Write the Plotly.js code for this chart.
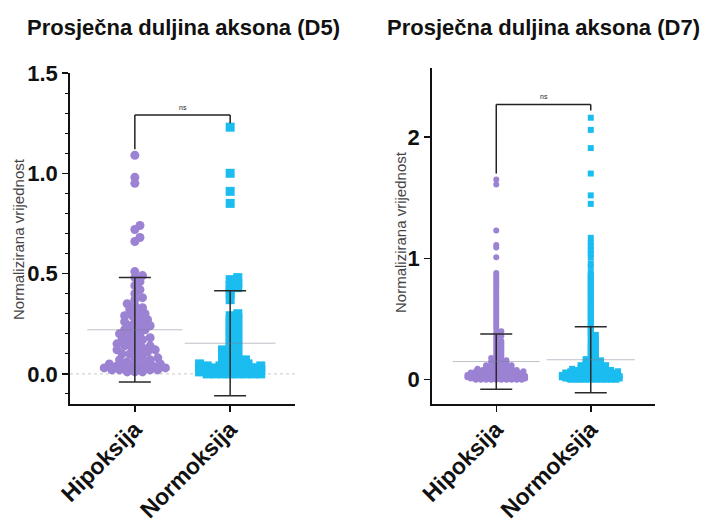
<!DOCTYPE html>
<html>
<head>
<meta charset="utf-8">
<script src="https://cdn.plot.ly/plotly-3.0.1.min.js"></script>
<style>html,body{margin:0;padding:0;background:#fff;}#chart{width:706px;height:524px;}</style>
</head>
<body>
<div id="chart"></div>
<script>
// ---- data ----
const groups = ['Hipoksija', 'Normoksija'];
const titles = ['Prosječna duljina aksona (D5)', 'Prosječna duljina aksona (D7)'];
const yTitle = 'Normalizirana vrijednost';
const sigLabel = 'ns';

const hipoD5 = [1.09, 0.98, 0.95, 0.74, 0.72, 0.68, 0.66, 0.51, 0.49, 0.48, 0.46, 0.44, 0.42, 0.40, 0.38, 0.37, 0.35, 0.34, 0.33, 0.32, 0.31, 0.30, 0.29, 0.29, 0.28, 0.27, 0.26, 0.26, 0.25, 0.24, 0.24, 0.23, 0.22, 0.22, 0.21, 0.20, 0.20, 0.19, 0.18, 0.18, 0.17, 0.17, 0.16, 0.15, 0.15, 0.14, 0.14, 0.13, 0.13, 0.12, 0.12, 0.11, 0.11, 0.10, 0.10, 0.09, 0.08, 0.08, 0.07, 0.07, 0.06, 0.06, 0.05, 0.05, 0.05, 0.04, 0.04, 0.04, 0.04, 0.03, 0.03, 0.03, 0.03, 0.02, 0.02, 0.02, 0.02, 0.01, 0.01, 0.01];
const normoD5 = [1.23, 1.00, 0.91, 0.85, 0.48, 0.47, 0.45, 0.44, 0.43, 0.42, 0.40, 0.37, 0.30, 0.29, 0.28, 0.27, 0.26, 0.25, 0.24, 0.23, 0.22, 0.21, 0.20, 0.19, 0.18, 0.17, 0.16, 0.15, 0.14, 0.13, 0.12, 0.12, 0.11, 0.10, 0.10, 0.09, 0.08, 0.08, 0.07, 0.07, 0.06, 0.06, 0.05, 0.05, 0.05, 0.04, 0.04, 0.04, 0.04, 0.03, 0.03, 0.03, 0.03, 0.03, 0.03, 0.02, 0.02, 0.02, 0.02, 0.02, 0.02, 0.02, 0.01, 0.01, 0.01, 0.01, 0.01, 0.01, 0.01, 0.01, 0.00, 0.00, 0.00, 0.00, 0.00, 0.00, 0.00, 0.00];
const hipoD7 = [1.65, 1.61, 1.23, 1.11, 1.09, 1.01, 0.88, 0.86, 0.84, 0.82, 0.80, 0.78, 0.76, 0.74, 0.72, 0.70, 0.68, 0.66, 0.64, 0.62, 0.60, 0.58, 0.56, 0.54, 0.52, 0.50, 0.48, 0.46, 0.44, 0.42, 0.40, 0.39, 0.37, 0.36, 0.35, 0.33, 0.32, 0.31, 0.30, 0.29, 0.28, 0.27, 0.26, 0.25, 0.24, 0.23, 0.22, 0.21, 0.20, 0.19, 0.18, 0.18, 0.17, 0.16, 0.16, 0.15, 0.15, 0.14, 0.14, 0.13, 0.13, 0.12, 0.12, 0.12, 0.11, 0.11, 0.11, 0.10, 0.10, 0.10, 0.09, 0.09, 0.09, 0.09, 0.08, 0.08, 0.08, 0.08, 0.07, 0.07, 0.07, 0.07, 0.07, 0.06, 0.06, 0.06, 0.06, 0.06, 0.06,
  0.05, 0.05, 0.05, 0.05, 0.05, 0.05, 0.05, 0.05, 0.04, 0.04, 0.04, 0.04, 0.04, 0.04, 0.04, 0.04, 0.04, 0.04, 0.03, 0.03, 0.03, 0.03, 0.03, 0.03, 0.03, 0.03, 0.03, 0.03, 0.03, 0.03, 0.02, 0.02, 0.02, 0.02, 0.02, 0.02, 0.02, 0.02, 0.02, 0.02, 0.02, 0.02, 0.01, 0.01, 0.01, 0.01, 0.01, 0.01, 0.01, 0.01, 0.01, 0.01, 0.01, 0.01, 0.00, 0.00, 0.00, 0.00, 0.00, 0.00, 0.00, 0.00, 0.00, 0.00];
const normoD7 = [2.16, 2.06, 1.91, 1.70, 1.52, 1.45, 1.17, 1.13, 1.10, 1.07, 1.04, 1.01, 0.96, 0.93, 0.88, 0.86, 0.84, 0.82, 0.80, 0.78, 0.76, 0.74, 0.72, 0.70, 0.68, 0.66, 0.64, 0.62, 0.60, 0.58, 0.56, 0.54, 0.52, 0.50, 0.48, 0.46, 0.44, 0.42, 0.40, 0.38, 0.37, 0.36, 0.34, 0.33, 0.32, 0.31, 0.30, 0.29, 0.28, 0.27, 0.26, 0.25, 0.24, 0.23, 0.22, 0.21, 0.20, 0.19, 0.18, 0.17, 0.17, 0.16, 0.16, 0.15, 0.15, 0.14, 0.14, 0.13, 0.13, 0.12, 0.12, 0.12, 0.11, 0.11, 0.11, 0.10, 0.10, 0.10, 0.09, 0.09, 0.09, 0.09, 0.08, 0.08, 0.08, 0.08, 0.07, 0.07, 0.07, 0.07, 0.07, 0.06, 0.06, 0.06, 0.06, 0.06, 0.06,
  0.05, 0.05, 0.05, 0.05, 0.05, 0.05, 0.05, 0.05, 0.04, 0.04, 0.04, 0.04, 0.04, 0.04, 0.04, 0.04, 0.04, 0.04, 0.03, 0.03, 0.03, 0.03, 0.03, 0.03, 0.03, 0.03, 0.03, 0.03, 0.03, 0.03, 0.02, 0.02, 0.02, 0.02, 0.02, 0.02, 0.02, 0.02, 0.02, 0.02, 0.02, 0.02, 0.01, 0.01, 0.01, 0.01, 0.01, 0.01, 0.01, 0.01, 0.01, 0.01, 0.01, 0.01, 0.00, 0.00, 0.00, 0.00, 0.00, 0.00, 0.00, 0.00, 0.00, 0.00];

// mean and SD
const meanD5 = [0.22, 0.153];
const sdD5 = [0.26, 0.262];
const meanD7 = [0.15, 0.165];
const sdD7 = [0.228, 0.272];

// significance brackets: [leftLegBottom, top, rightLegBottom]
const bracketD5 = [1.12, 1.29, 1.25];
const bracketD7 = [1.70, 2.27, 2.22];

const yTicksD5 = [0, 0.5, 1.0, 1.5];
const yTickTextD5 = ['0.0', '0.5', '1.0', '1.5'];
const yTicksD7 = [0, 1, 2];
const yTickTextD7 = ['0', '1', '2'];

// ---- styles ----
const W = 706, H = 524;
const purple = '#9b82d3';
const cyan = '#1bbdf0';
const FONT = 'Liberation Sans, Arial, sans-serif';
const axisCol = '#111';
const meanCol = 'rgba(125,125,145,0.7)';

function xAxis(domain, anchor) {
  return {
    domain: domain, anchor: anchor, type: 'linear', range: [-0.68, 1.68],
    tickmode: 'array', tickvals: [0, 1], ticktext: groups,
    showline: true, linecolor: axisCol, linewidth: 1.8,
    ticks: 'outside', ticklen: 6, tickwidth: 1.5, tickcolor: axisCol, tickangle: -45,
    ticklabelstandoff: -5,
    tickfont: {family: FONT, size: 23, color: axisCol, weight: 'bold'},
    showgrid: false, zeroline: false, fixedrange: true
  };
}
function yAxis(domain, anchor, range, tv, tt, minor) {
  const a = {
    domain: domain, anchor: anchor, range: range, tickmode: 'array', tickvals: tv, ticktext: tt,
    showline: true, linecolor: axisCol, linewidth: 1.8,
    ticks: 'outside', ticklen: 6, tickwidth: 1.5, tickcolor: axisCol,
    tickfont: {family: FONT, size: 22, color: axisCol, weight: 'bold'},
    showgrid: false, zeroline: false, fixedrange: true
  };
  if (minor) a.minor = {tickmode: 'linear', tick0: 0, dtick: 0.1, ticks: 'outside', ticklen: 3, tickwidth: 1, tickcolor: axisCol, showgrid: false};
  return a;
}

const xa1 = xAxis([0.0992, 0.4178], 'y');
const ya1 = yAxis([0.229, 0.8607], 'x', [-0.15, 1.5], yTicksD5, yTickTextD5, true);
const xa2 = xAxis([0.6119, 0.9278], 'y2');
const ya2 = yAxis([0.229, 0.8702], 'x2', [-0.2, 2.57], yTicksD7, yTickTextD7, false);

function pxPer(ax, len) { return (ax.domain[1] - ax.domain[0]) * len / (ax.range[1] - ax.range[0]); }

// beeswarm layout: spreads points horizontally (in data units) so markers avoid overlap,
// capped at a maximum half-width; positions derive from the values only.
function beeswarm(vals, center, xa, ya, diam, maxHalfPx, yStretch) {
  const kx = pxPer(xa, W), ky = pxPer(ya, H) * yStretch;
  const order = vals.map((v, i) => i).sort((a, b) => vals[a] - vals[b]);
  const placed = [];
  const xs = new Array(vals.length);
  const step = diam * 0.34;
  for (const i of order) {
    const yp = vals[i] * ky;
    let best = 0, bestScore = -1, found = false;
    for (let k = 0; k * step <= maxHalfPx && !found; k++) {
      const sides = k === 0 ? [0] : [1, -1];
      for (const s of sides) {
        const xp = s * k * step;
        let minD = Infinity;
        for (const p of placed) {
          if (Math.abs(p.yp - yp) < diam) {
            const d = Math.hypot(p.xp - xp, p.yp - yp);
            if (d < minD) minD = d;
          }
        }
        if (minD >= diam) { best = xp; found = true; break; }
        if (minD > bestScore) { bestScore = minD; best = xp; }
      }
    }
    placed.push({xp: best, yp: yp});
    xs[i] = center + best / kx;
  }
  return xs;
}

function swarm(vals, gi, color, symbol, size, xa, ya, xaName, yaName, diam, maxHalf, yStretch) {
  return {
    type: 'scatter', mode: 'markers', x: beeswarm(vals, gi, xa, ya, diam, maxHalf, yStretch), y: vals,
    xaxis: xaName, yaxis: yaName,
    marker: {color: color, symbol: symbol, size: size, line: {width: 0}},
    showlegend: false, hoverinfo: 'skip', cliponaxis: false
  };
}
function meanSd(means, sds, xaName, yaName, sizes) {
  return {
    type: 'scatter', mode: 'markers', x: [0, 1], y: means, xaxis: xaName, yaxis: yaName,
    error_y: {type: 'data', array: sds, visible: true, color: '#2a2a2a', thickness: 1.5, width: 16},
    marker: {symbol: 'line-ew-open', size: sizes, color: meanCol, line: {width: 1, color: meanCol}},
    showlegend: false, hoverinfo: 'skip'
  };
}

const data = [
  swarm(hipoD5, 0, purple, 'circle', 9, xa1, ya1, 'x', 'y', 7.5, 31, 1.7),
  swarm(normoD5, 1, cyan, 'square', 9, xa1, ya1, 'x', 'y', 7.5, 31, 2.0),
  swarm(hipoD7, 0, purple, 'circle', 6, xa2, ya2, 'x2', 'y2', 5, 29, 2.5),
  swarm(normoD7, 1, cyan, 'square', 6, xa2, ya2, 'x2', 'y2', 5, 29, 2.5),
  meanSd(meanD5, sdD5, 'x', 'y', [68, 65]),
  meanSd(meanD7, sdD7, 'x2', 'y2', [62, 63])
];

function bracket(b, xr, yr) {
  const ln = {color: '#222', width: 1.5};
  return [
    {type: 'line', xref: xr, yref: yr, x0: 0, x1: 0, y0: b[0], y1: b[1], line: ln},
    {type: 'line', xref: xr, yref: yr, x0: 0, x1: 1, y0: b[1], y1: b[1], line: ln},
    {type: 'line', xref: xr, yref: yr, x0: 1, x1: 1, y0: b[1], y1: b[2], line: ln}
  ];
}

const layout = {
  width: W, height: H,
  margin: {l: 0, r: 0, t: 0, b: 0},
  paper_bgcolor: '#fff', plot_bgcolor: '#fff',
  hovermode: false, showlegend: false,
  font: {family: FONT, color: axisCol},
  xaxis: xa1, yaxis: ya1, xaxis2: xa2, yaxis2: ya2,
  shapes: [
    {type: 'line', xref: 'x domain', yref: 'y', x0: 0, x1: 1, y0: 0, y1: 0, layer: 'below', line: {color: '#c8c8c8', width: 1, dash: 'dot'}}
  ].concat(bracket(bracketD5, 'x', 'y'), bracket(bracketD7, 'x2', 'y2')),
  annotations: [
    {xref: 'paper', yref: 'paper', x: 183 / W, y: 1 - 28 / H, text: titles[0], showarrow: false, xanchor: 'center', yanchor: 'middle', font: {family: FONT, size: 22, color: '#111', weight: 'bold'}},
    {xref: 'paper', yref: 'paper', x: 543 / W, y: 1 - 28 / H, text: titles[1], showarrow: false, xanchor: 'center', yanchor: 'middle', font: {family: FONT, size: 22, color: '#111', weight: 'bold'}},
    {xref: 'paper', yref: 'paper', x: 18 / W, y: 1 - 239 / H, text: yTitle, textangle: -90, showarrow: false, xanchor: 'center', yanchor: 'middle', font: {family: FONT, size: 15, color: '#444'}},
    {xref: 'paper', yref: 'paper', x: 400 / W, y: 1 - 232 / H, text: yTitle, textangle: -90, showarrow: false, xanchor: 'center', yanchor: 'middle', font: {family: FONT, size: 15, color: '#444'}},
    {xref: 'x', yref: 'y', x: 0.5, y: bracketD5[1], text: sigLabel, showarrow: false, yanchor: 'bottom', yshift: 2, font: {family: FONT, size: 7, color: '#222'}},
    {xref: 'x2', yref: 'y2', x: 0.5, y: bracketD7[1], text: sigLabel, showarrow: false, yanchor: 'bottom', yshift: 2, font: {family: FONT, size: 7, color: '#222'}}
  ]
};

Plotly.newPlot('chart', data, layout, {staticPlot: true, displayModeBar: false});
</script>
</body>
</html>
